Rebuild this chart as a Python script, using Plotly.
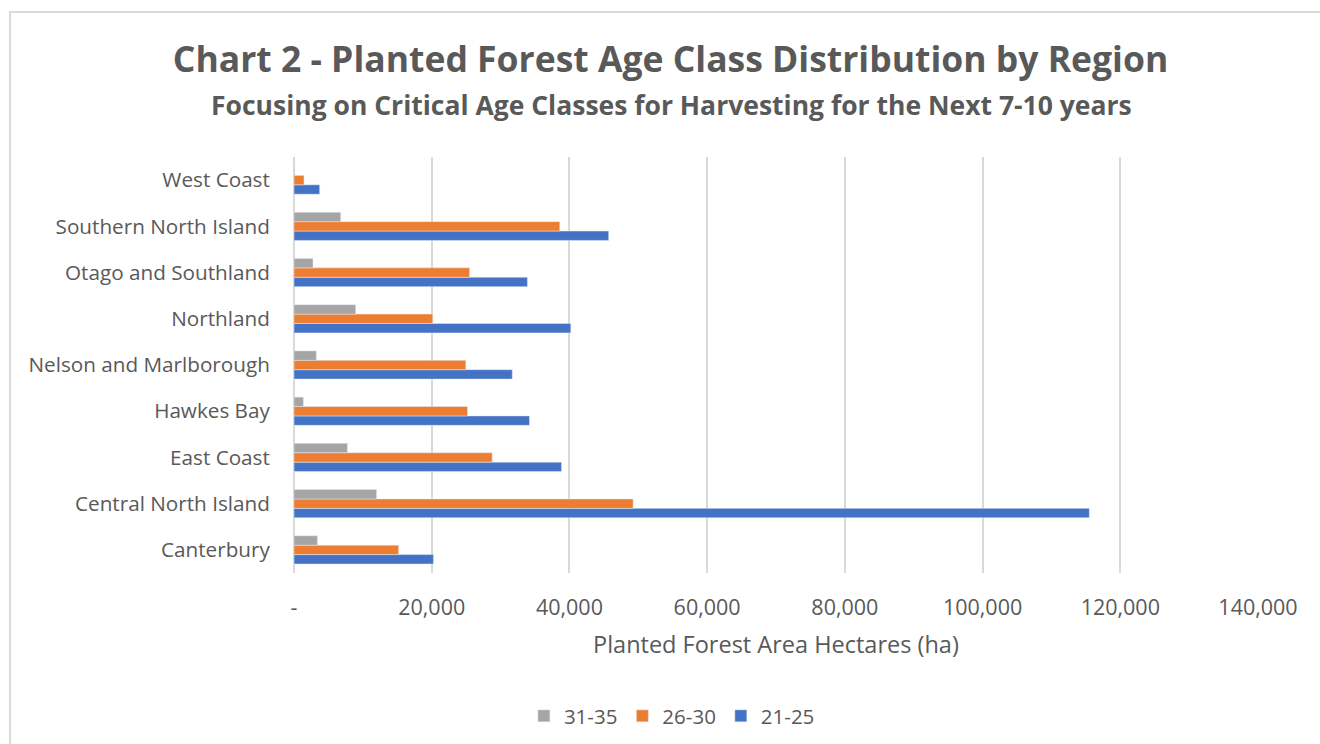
import plotly.graph_objects as go

regions = ["Canterbury", "Central North Island", "East Coast", "Hawkes Bay",
           "Nelson and Marlborough", "Northland", "Otago and Southland",
           "Southern North Island", "West Coast"]
age_21_25 = [20250, 115500, 38850, 34200, 31700, 40200, 33900, 45700, 3730]
age_26_30 = [15200, 49250, 28780, 25200, 24950, 20150, 25500, 38600, 1450]
age_31_35 = [3400, 12000, 7760, 1370, 3250, 8960, 2760, 6780, 100]

x_tickvals = [0, 20000, 40000, 60000, 80000, 100000, 120000, 140000]
x_ticktext = ["-", "20,000", "40,000", "60,000", "80,000", "100,000", "120,000", "140,000"]

TXT = "#595959"
FONT = "Open Sans"

fig = go.Figure()
fig.add_trace(go.Bar(y=regions, x=age_21_25, name="21-25", orientation="h",
                     marker_color="#4472C4"))
fig.add_trace(go.Bar(y=regions, x=age_26_30, name="26-30", orientation="h",
                     marker_color="#ED7D31"))
fig.add_trace(go.Bar(y=regions, x=age_31_35, name="31-35", orientation="h",
                     marker_color="#A5A5A5"))

L, R, T, B = 294, 62, 157, 171
W, H = 1320, 744
pw, ph = W - L - R, H - T - B

def px_x(p):
    return (p - L) / pw

def px_y(p):
    return (H - B - p) / ph

fig.update_layout(
    width=W, height=H,
    margin=dict(l=L, r=R, t=T, b=B),
    paper_bgcolor="white", plot_bgcolor="white",
    barmode="group", bargap=0.39, bargroupgap=0,
    font=dict(family=FONT, color=TXT, size=20),
    title=dict(text="<b>Chart 2 - Planted Forest Age Class Distribution by Region</b>",
               x=0.508, xanchor="center", xref="container",
               y=1 - 60 / H, yanchor="middle", yref="container",
               font=dict(size=35.5, color=TXT, family=FONT)),
    legend=dict(orientation="h", traceorder="reversed",
                xref="container", yref="container",
                x=0.509, xanchor="center", y=1 - 716 / H, yanchor="middle",
                font=dict(size=20.5, color=TXT), itemwidth=30),
    xaxis=dict(range=[0, 140000], tickvals=x_tickvals, ticktext=x_ticktext,
               showgrid=True, gridcolor="#D9D9D9", gridwidth=1.5,
               zeroline=True, zerolinecolor="#D9D9D9", zerolinewidth=1.5,
               showline=False, tickfont=dict(size=21.5, color=TXT),
               ticks="outside", ticklen=15, tickcolor="rgba(0,0,0,0)"),
    yaxis=dict(categoryorder="array", categoryarray=regions,
               showgrid=False, zeroline=False, showline=False,
               tickfont=dict(size=20.7, color=TXT),
               ticks="outside", ticklen=19, tickcolor="rgba(0,0,0,0)"),
    annotations=[
        dict(text="<b>Focusing on Critical Age Classes for Harvesting for the Next 7-10 years</b>",
             xref="paper", yref="paper", x=px_x(671), y=px_y(105),
             xanchor="center", yanchor="middle", showarrow=False,
             font=dict(size=26.5, color=TXT, family=FONT)),
        dict(text="Planted Forest Area Hectares (ha)",
             xref="paper", yref="paper", x=0.5, y=px_y(644),
             xanchor="center", yanchor="middle", showarrow=False,
             font=dict(size=23.5, color=TXT, family=FONT)),
    ],
    shapes=[
        dict(type="rect", xref="paper", yref="paper",
             x0=px_x(10), x1=px_x(1340), y0=px_y(760), y1=px_y(12),
             line=dict(color="#D9D9D9", width=2), fillcolor="rgba(0,0,0,0)",
             layer="below"),
    ],
)

fig.write_html("out.html")
